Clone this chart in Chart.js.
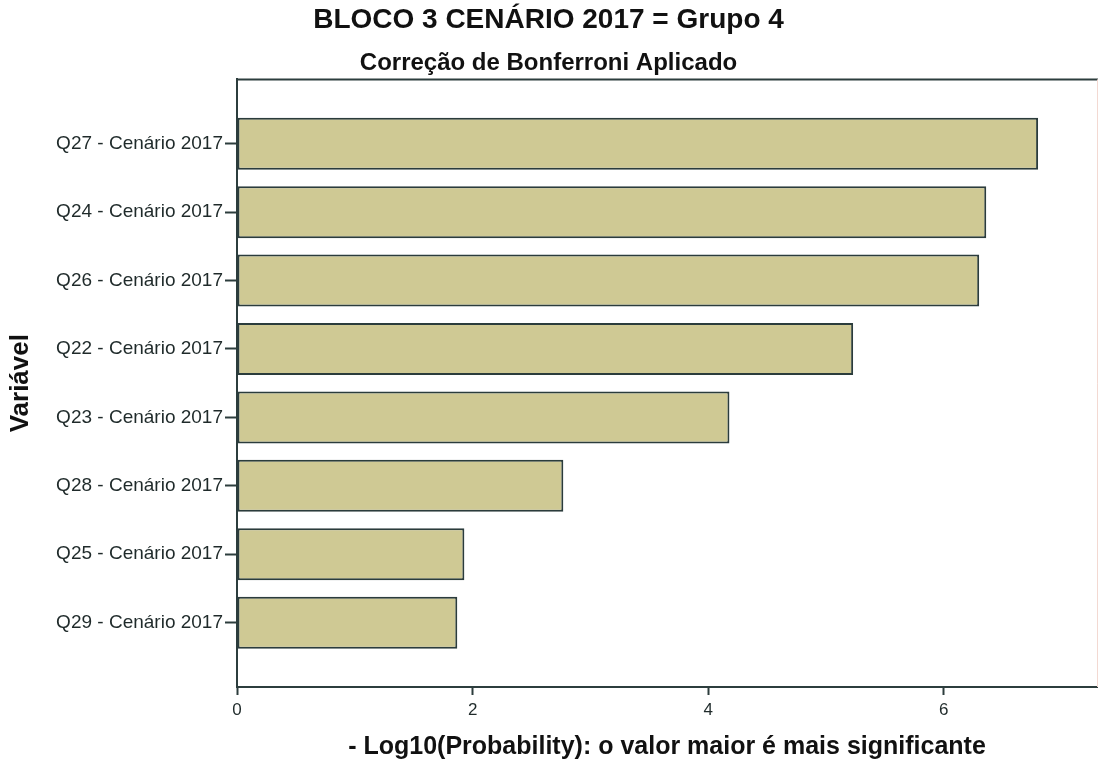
<!DOCTYPE html>
<html>
<head>
<meta charset="utf-8">
<script src="https://cdn.jsdelivr.net/npm/chart.js@4.4.1/dist/chart.umd.min.js"></script>
<style>
  html, body { margin: 0; padding: 0; background: #ffffff; }
  #wrap { width: 1099px; height: 762px; }
</style>
</head>
<body>
<div id="wrap"><canvas id="chart" width="1099" height="762"></canvas></div>
<script>
// Variables, top to bottom
const categories = [
  'Q27 - Cenário 2017',
  'Q24 - Cenário 2017',
  'Q26 - Cenário 2017',
  'Q22 - Cenário 2017',
  'Q23 - Cenário 2017',
  'Q28 - Cenário 2017',
  'Q25 - Cenário 2017',
  'Q29 - Cenário 2017'
];
// -Log10(p) for each variable
const values = [6.80, 6.36, 6.30, 5.23, 4.18, 2.77, 1.93, 1.87];
// Ticks shown on the value axis
const xTicks = [0, 2, 4, 6];

const FONT = "'Liberation Sans', Arial, Helvetica, sans-serif";
const INK = '#1f2a2a';
const AXIS = '#2c3d3d';

// Top and right edges of the plot frame
const framePlugin = {
  id: 'frame',
  afterDraw(chart) {
    const { ctx, chartArea: a } = chart;
    ctx.save();
    ctx.lineWidth = 2;
    ctx.strokeStyle = AXIS;
    ctx.beginPath();
    ctx.moveTo(a.left, a.top);
    ctx.lineTo(a.right + 1, a.top);
    ctx.stroke();
    ctx.lineWidth = 1;
    ctx.strokeStyle = '#f3d9d2';
    ctx.beginPath();
    ctx.moveTo(a.right + 0.5, a.top);
    ctx.lineTo(a.right + 0.5, a.bottom);
    ctx.stroke();
    ctx.restore();
  }
};

new Chart(document.getElementById('chart'), {
  type: 'bar',
  data: {
    datasets: [{
      data: values.map((v, i) => ({ x: v, y: i })),
      backgroundColor: '#cfc994',
      borderColor: '#2b3c3c',
      borderWidth: 2,
      borderSkipped: false,
      categoryPercentage: 1,
      barPercentage: 0.76
    }]
  },
  options: {
    indexAxis: 'y',
    responsive: false,
    animation: false,
    layout: { padding: { left: 0, right: 2, top: 0, bottom: 0 } },
    plugins: {
      legend: { display: false },
      tooltip: { enabled: false },
      title: {
        display: true,
        text: 'BLOCO 3 CENÁRIO 2017 = Grupo 4',
        color: '#111',
        font: { family: FONT, size: 28, weight: 'bold' },
        padding: { top: 3, bottom: 12 }
      },
      subtitle: {
        display: true,
        text: 'Correção de Bonferroni Aplicado',
        color: '#111',
        font: { family: FONT, size: 24, weight: 'bold' },
        padding: { top: 0, bottom: 2 }
      }
    },
    scales: {
      x: {
        type: 'linear',
        min: 0,
        max: 7.3,
        afterBuildTicks(scale) { scale.ticks = xTicks.map(v => ({ value: v })); },
        afterFit(scale) { scale.height = 75; },
        border: { display: true, color: AXIS, width: 2 },
        grid: { drawOnChartArea: false, drawTicks: true, tickLength: 8, color: AXIS, tickWidth: 2 },
        ticks: {
          color: INK,
          padding: 5,
          font: { family: FONT, size: 17 }
        },
        title: {
          display: true,
          text: '- Log10(Probability): o valor maior é mais significante',
          color: '#111',
          font: { family: FONT, size: 25, weight: 'bold' },
          padding: { top: 0, bottom: 0 }
        }
      },
      y: {
        type: 'linear',
        reverse: true,
        offset: false,
        min: -0.94,
        max: 7.94,
        afterBuildTicks(scale) { scale.ticks = categories.map((_, i) => ({ value: i })); },
        afterFit(scale) { scale.width = 237; },
        border: { display: true, color: AXIS, width: 2 },
        grid: { offset: false, drawOnChartArea: false, drawTicks: true, tickLength: 12, color: AXIS, tickWidth: 2 },
        ticks: {
          color: INK,
          padding: 2,
          autoSkip: false,
          font: { family: FONT, size: 19 },
          callback: (v) => categories[v]
        },
        title: {
          display: true,
          text: 'Variável',
          color: '#111',
          font: { family: FONT, size: 26, weight: 'bold' },
          padding: { top: 5, bottom: 0 }
        }
      }
    }
  },
  plugins: [framePlugin]
});
</script>
</body>
</html>
